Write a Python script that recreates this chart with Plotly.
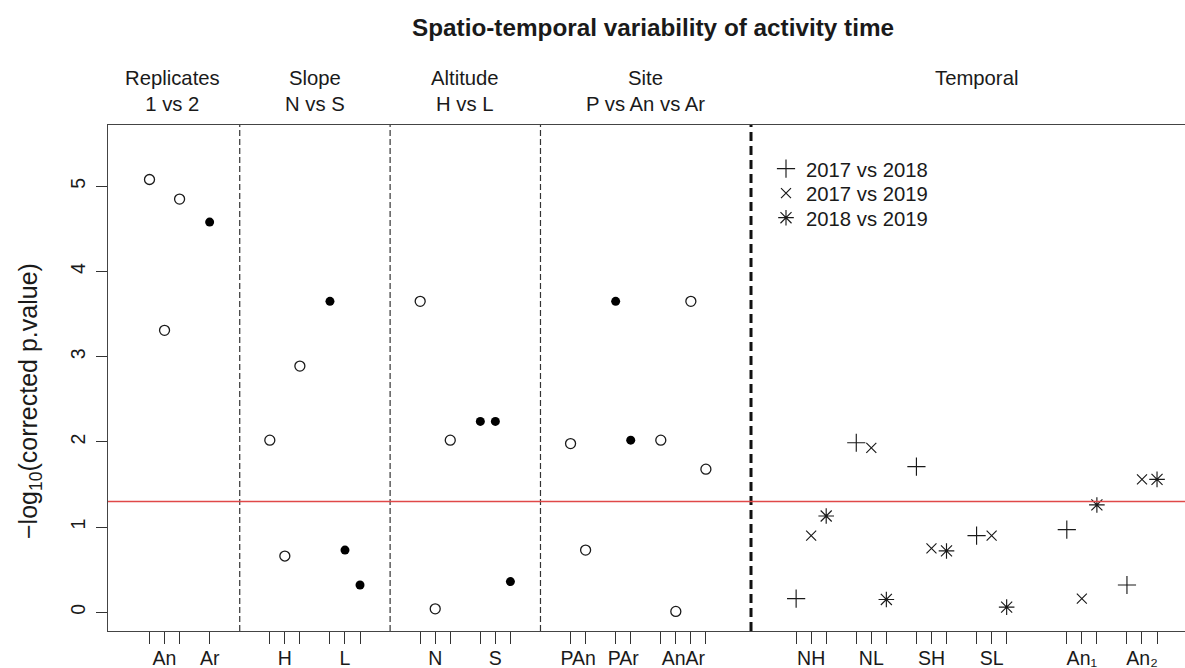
import plotly.graph_objects as go

# ---------------- data ----------------
open_pos = [1, 2, 3, 9, 10, 11, 19, 20, 21, 29, 30, 35, 36, 37, 38]
open_val = [5.08, 3.31, 4.85, 2.02, 0.66, 2.89, 3.65, 0.04, 2.02, 1.98, 0.73, 2.02, 0.01, 3.65, 1.68]

filled_pos = [5, 13, 14, 15, 23, 24, 25, 32, 33]
filled_val = [4.58, 3.65, 0.73, 0.32, 2.24, 2.24, 0.36, 3.65, 2.02]

t1718_pos = [44, 48, 52, 56, 62, 66]
t1718_val = [0.16, 1.99, 1.71, 0.90, 0.97, 0.32]
t1719_pos = [45, 49, 53, 57, 63, 67]
t1719_val = [0.90, 1.93, 0.75, 0.90, 0.16, 1.56]
t1819_pos = [46, 50, 54, 58, 64, 68]
t1819_val = [1.13, 0.15, 0.72, 0.06, 1.26, 1.56]

series_names = ["2017 vs 2018", "2017 vs 2019", "2018 vs 2019"]

tick_pos = [1, 2, 3, 5, 9, 10, 11, 13, 14, 15, 19, 20, 21, 23, 24, 25,
            29, 30, 32, 33, 35, 36, 37, 38,
            44, 45, 46, 48, 49, 50, 52, 53, 54, 56, 57, 58, 62, 63, 64, 66, 67, 68]
label_pos = [2, 5, 10, 14, 20, 24, 29.5, 32.5, 36.5, 45, 49, 53, 57, 63, 67]
label_text = ["An", "Ar", "H", "L", "N", "S", "PAn", "PAr", "AnAr",
              "NH", "NL", "SH", "SL", "An\u2081", "An\u2082"]

group_titles = ["Replicates<br>1 vs 2", "Slope<br>N vs S", "Altitude<br>H vs L",
                "Site<br>P vs An vs Ar", "Temporal"]
group_centers = [2.5, 12, 22, 34, 56]
thin_separators = [7, 17, 27]
thick_separator = 41
threshold = 1.30103
y_ticks = [0, 1, 2, 3, 4, 5]

# ---------------- layout geometry ----------------
W, H = 1185, 668
L, R, T, B = 108, 0, 125, 37
PW, PH = W - L - R, H - T - B


def px_x(px):
    return (px - L) / PW


def px_y(py):
    return (H - B - py) / PH


FONT = "Liberation Sans, Arial, Helvetica, sans-serif"
INK = "#1a1a1a"
FS = 20.3
TFS = 19.5

fig = go.Figure()
fig.add_trace(go.Scatter(x=open_pos, y=open_val, mode="markers", showlegend=False,
                         marker=dict(symbol="circle-open", size=10, color=INK,
                                     line=dict(width=1.3, color=INK))))
fig.add_trace(go.Scatter(x=filled_pos, y=filled_val, mode="markers", showlegend=False,
                         marker=dict(symbol="circle", size=9, color="black")))
sym = ["cross-thin-open", "x-thin-open", "asterisk-open"]
sizes = [13, 10, 13]
legends = ["legend", "legend2", "legend3"]
for nm, xs, ys, s, sz, lg in zip(series_names, [t1718_pos, t1719_pos, t1819_pos],
                                 [t1718_val, t1719_val, t1819_val], sym, sizes, legends):
    fig.add_trace(go.Scatter(x=xs, y=ys, mode="markers", name=nm, legend=lg,
                             marker=dict(symbol=s, size=sz, color=INK,
                                         line=dict(width=1.15, color=INK))))
# invisible trace to create the label axis
fig.add_trace(go.Scatter(x=label_pos, y=[None] * len(label_pos), xaxis="x2",
                         mode="markers", showlegend=False, hoverinfo="skip"))

shapes = []
for sx in thin_separators:
    shapes.append(dict(type="line", xref="x", yref="paper", x0=sx, x1=sx, y0=0, y1=1,
                       line=dict(color="#333", width=1.2, dash="6px,3px")))
shapes.append(dict(type="line", xref="x", yref="paper", x0=thick_separator, x1=thick_separator,
                   y0=0, y1=1, line=dict(color="#111", width=3, dash="9px,5px")))
shapes.append(dict(type="line", xref="paper", yref="y", x0=0, x1=1, y0=threshold, y1=threshold,
                   line=dict(color="#e04848", width=1.5)))

ann = []
ann.append(dict(text="<b>Spatio-temporal variability of activity time</b>", xref="paper", yref="paper",
                x=px_x(652.5), y=px_y(27), xanchor="center", yanchor="middle", showarrow=False,
                font=dict(size=24.3, family=FONT, color=INK)))
for t, c in zip(group_titles, group_centers):
    ann.append(dict(text=t, xref="x", yref="paper", x=c, y=px_y(65), xanchor="center",
                    yanchor="top", showarrow=False, font=dict(size=FS, family=FONT, color=INK)))
ann.append(dict(text="\u2212log<sub>10</sub>(corrected p.value)", xref="paper", yref="paper",
                x=px_x(30), y=px_y(401), xanchor="center", yanchor="middle", textangle=-90,
                showarrow=False, font=dict(size=25, family=FONT, color=INK)))

leg_common = dict(x=px_x(766), xanchor="left", yanchor="middle",
                  bgcolor="rgba(0,0,0,0)", font=dict(size=FS, family=FONT, color=INK),
                  itemwidth=30)

fig.update_layout(
    template="none",
    width=W, height=H, margin=dict(l=L, r=R, t=T, b=B, autoexpand=False),
    paper_bgcolor="white", plot_bgcolor="white",
    font=dict(family=FONT, size=FS, color=INK),
    shapes=shapes, annotations=ann,
    showlegend=True,
    legend=dict(y=px_y(169), **leg_common),
    legend2=dict(y=px_y(193.5), **leg_common),
    legend3=dict(y=px_y(218), **leg_common),
    xaxis=dict(range=[-1.76, 69.86], tickmode="array", tickvals=tick_pos,
               showticklabels=False, ticks="outside", ticklen=12, tickwidth=1.2,
               tickcolor="#333", showgrid=False, zeroline=False, showline=True,
               linecolor="#444", linewidth=1.3, mirror=True, automargin=False),
    xaxis2=dict(range=[-1.76, 69.86], overlaying="x", anchor="y", side="bottom",
                tickmode="array", tickvals=label_pos, ticktext=label_text,
                ticks="outside", ticklen=10, tickcolor="rgba(0,0,0,0)",
                showgrid=False, zeroline=False, showline=False, automargin=False,
                tickfont=dict(size=TFS, family=FONT, color=INK)),
    yaxis=dict(range=[-0.22, 5.72], tickmode="array", tickvals=y_ticks,
               ticks="outside", ticklen=11, tickwidth=1.2, tickcolor="#333",
               tickangle=-90, showgrid=False, zeroline=False, showline=True,
               linecolor="#444", linewidth=1.3, mirror=False, automargin=False,
               ticklabelstandoff=3,
               tickfont=dict(size=TFS, family=FONT, color=INK)),
)

fig.write_html("out.html", config={"displayModeBar": False},
               post_script="document.body.style.margin='0';document.body.style.padding='0';"
                           "document.documentElement.style.overflow='hidden';")
